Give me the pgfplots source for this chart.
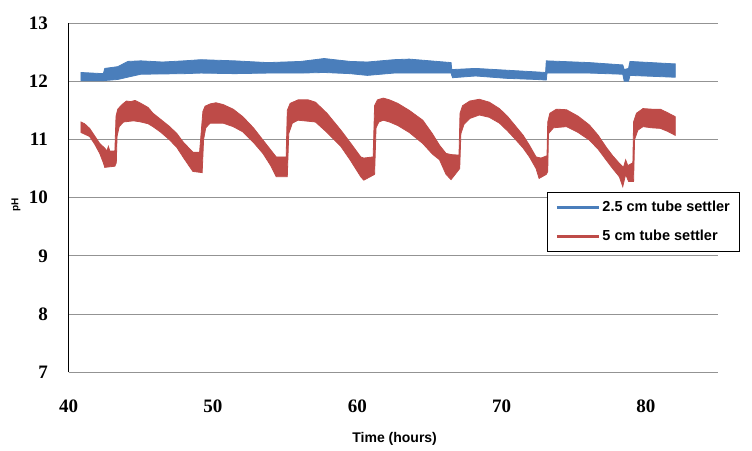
\documentclass[border=0pt]{standalone}
\usepackage{fontspec}
\setmainfont{Liberation Serif}
\newfontfamily\sansf{Liberation Sans}
\usepackage{pgfplots}
\pgfplotsset{compat=1.18}
\definecolor{blue0}{HTML}{4A7EBB}
\definecolor{red0}{HTML}{BE4B48}
\begin{document}
\begin{tikzpicture}
\useasboundingbox (0,0) rectangle (752bp,451bp);
\begin{axis}[
  scale only axis,
  width=649.3bp, height=349.3bp,
  at={(68.7bp,78.7bp)}, anchor=south west,
  xmin=40, xmax=85, ymin=7, ymax=13,
  xtick={40,50,60,70,80}, ytick={7,8,9,10,11,12,13},
  major tick length=0pt,
  axis y line*=left, axis x line*=bottom,
  x axis line style={draw=none},
  y axis line style={draw=black, line width=0.8bp},
  ymajorgrids, grid style={draw=gray!85, line width=0.9bp},
  /pgf/number format/assume math mode=true,
  ticklabel style={font=\fontsize{19bp}{21bp}\selectfont\bfseries},
  yticklabel style={anchor=east, inner sep=0pt, xshift=-20.7bp},
  xticklabel style={anchor=north, inner sep=0pt, yshift=-27.7bp},
  xlabel={Time (hours)},
  xlabel style={at={(axis description cs:0.502,-0.191)}, anchor=center, font=\sansf\bfseries\fontsize{14bp}{16bp}\selectfont},
  ylabel={pH},
  ylabel style={at={(axis description cs:-0.0812,0.479)}, anchor=center, font=\sansf\bfseries\fontsize{10bp}{12bp}\selectfont},
  legend style={at={(rel axis cs:0.7366,0.5162)}, anchor=north west, draw=black, line width=1bp, fill=white,
    font=\sansf\bfseries\fontsize{14.5bp}{16bp}\selectfont, row sep=13bp, inner xsep=8bp, inner ysep=7bp,
    cells={anchor=west}},
  legend image code/.code={\draw[#1] (0bp,0bp) -- (42bp,0bp);},
]
% 2.5 cm tube settler: upper envelope forward, lower envelope backward
\addplot[fill=blue0, draw=blue0, line width=0.8bp, forget plot] coordinates {
(40.85,12.15) (42.4,12.13) (42.5,12.22) (43.4,12.25) (44.1,12.34) (45.0,12.35) (46.5,12.33) (48.0,12.35) (49.16,12.37) (51.5,12.35) (53.8,12.32) (56.1,12.34) (57.7,12.39) (59.5,12.34) (60.7,12.33) (62.55,12.37) (63.6,12.38) (66.5,12.32) (66.55,12.20) (68.2,12.22) (70.3,12.19) (72.4,12.16) (73.05,12.15) (73.1,12.35) (76.1,12.32) (78.4,12.28) (78.5,12.20) (78.8,12.22) (78.9,12.34) (81.85,12.30) (82.04,12.30)
(82.04,12.07) (81.85,12.07) (78.9,12.10) (78.8,12.00) (78.5,12.00) (78.4,12.12) (76.1,12.14) (73.15,12.14) (73.1,12.02) (72.4,12.03) (70.3,12.05) (68.2,12.09) (66.6,12.06) (66.5,12.14) (62.55,12.14) (60.7,12.10) (59.5,12.13) (57.7,12.15) (56.1,12.14) (53.8,12.14) (51.5,12.13) (49.16,12.14) (48.0,12.13) (45.0,12.12) (44.1,12.07) (43.4,12.03) (42.4,12.01) (40.85,12.01)
} -- cycle;
% 5 cm tube settler
\addplot[fill=red0, draw=red0, line width=0.8bp, forget plot] coordinates {
(40.85,11.30) (41.1,11.27) (41.45,11.19) (41.8,11.06) (42.15,10.93) (42.5,10.85) (42.65,10.80) (42.75,10.88) (42.85,10.80) (43.2,10.80)
(43.28,11.40) (43.4,11.52) (43.7,11.60) (44.0,11.66) (44.3,11.65) (44.6,11.67) (45.0,11.62) (45.5,11.55) (45.84,11.45) (46.4,11.34) (47.0,11.22) (47.5,11.10) (47.92,10.96) (48.3,10.86) (48.61,10.78) (49.07,10.78)
(49.3,11.48) (49.45,11.57) (49.8,11.61) (50.2,11.63) (50.7,11.60) (51.4,11.52) (52.07,11.39) (52.8,11.20) (53.46,10.99) (54.0,10.82) (54.38,10.70) (55.07,10.70)
(55.15,11.50) (55.35,11.62) (55.9,11.68) (56.6,11.68) (57.1,11.64) (57.9,11.45) (58.86,11.16) (59.5,10.95) (60.24,10.70) (60.45,10.68) (61.1,10.70)
(61.2,11.58) (61.4,11.68) (61.8,11.71) (62.23,11.68) (62.8,11.62) (63.6,11.50) (64.54,11.33) (65.2,11.10) (65.7,10.90) (66.15,10.76) (66.5,10.74) (67.05,10.73)
(67.12,11.45) (67.3,11.58) (67.8,11.66) (68.46,11.69) (69.15,11.64) (69.85,11.53) (70.4,11.40) (71.0,11.22) (71.5,11.07) (71.93,10.90) (72.39,10.70) (72.73,10.68) (73.15,10.72)
(73.2,11.30) (73.35,11.45) (73.8,11.52) (74.5,11.51) (75.3,11.40) (76.08,11.25) (76.7,11.07) (77.24,10.87) (77.7,10.72) (78.16,10.59) (78.45,10.52) (78.6,10.65) (78.75,10.55) (79.1,10.60)
(79.15,11.30) (79.35,11.45) (79.8,11.53) (80.4,11.52) (81.0,11.52) (81.5,11.46) (82.04,11.39)
(82.04,11.07) (81.5,11.14) (81.0,11.19) (80.4,11.20) (79.8,11.22) (79.45,11.16) (79.22,11.00)
(79.15,10.28) (78.8,10.28) (78.6,10.40) (78.4,10.19) (78.16,10.36) (77.7,10.50) (77.24,10.65) (76.7,10.83) (76.08,10.99) (75.3,11.12) (74.5,11.22) (73.6,11.20) (73.25,11.10)
(73.2,10.45) (73.1,10.40) (72.6,10.33) (72.39,10.50) (71.93,10.70) (71.5,10.85) (71.0,10.99) (70.4,11.15) (69.85,11.28) (69.15,11.38) (68.46,11.42) (67.8,11.36) (67.4,11.26) (67.18,11.10)
(67.1,10.50) (66.5,10.31) (66.15,10.40) (65.7,10.65) (65.2,10.75) (64.54,10.93) (63.6,11.12) (62.8,11.24) (62.23,11.30) (61.8,11.33) (61.5,11.30) (61.3,11.20)
(61.2,10.40) (60.45,10.30) (60.24,10.36) (59.5,10.65) (58.86,10.88) (57.9,11.12) (57.1,11.30) (55.9,11.33) (55.5,11.28) (55.25,11.10)
(55.15,10.36) (54.38,10.36) (54.0,10.55) (53.46,10.76) (52.8,10.95) (52.07,11.13) (51.4,11.22) (50.7,11.28) (49.8,11.28) (49.5,11.20) (49.35,11.00)
(49.25,10.43) (48.61,10.45) (48.3,10.56) (47.92,10.70) (47.5,10.86) (47.0,10.99) (46.4,11.12) (45.84,11.22) (45.5,11.27) (45.0,11.30) (44.5,11.32) (43.8,11.30) (43.5,11.22) (43.35,11.05)
(43.3,10.60) (43.2,10.54) (42.5,10.52) (42.4,10.60) (42.15,10.76) (41.8,10.92) (41.45,11.05) (40.85,11.12)
} -- cycle;
\addlegendimage{blue0, line width=3bp}
\addlegendentry{2.5 cm tube settler}
\addlegendimage{red0, line width=3bp}
\addlegendentry{5 cm tube settler}
\end{axis}
\end{tikzpicture}
\end{document}
